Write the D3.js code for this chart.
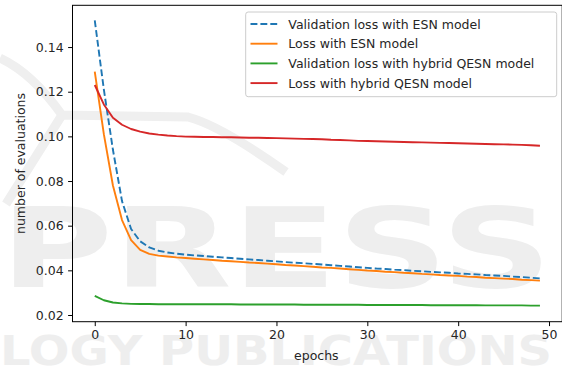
<!DOCTYPE html>
<html>
<head>
<meta charset="utf-8">
<script src="https://cdn.jsdelivr.net/npm/d3@7"></script>
<style>
body { margin: 0; background: #fff; }
svg { display: block; font-family: "DejaVu Sans", sans-serif; }
</style>
</head>
<body>
<div id="plot"></div>
<script>
const epochs = [0, 1, 2, 3, 4, 5, 6, 7, 8, 9, 10, 11, 12, 13, 14, 15, 16, 17, 18, 19,
    20, 21, 22, 23, 24, 25, 26, 27, 28, 29, 30, 31, 32, 33, 34, 35, 36, 37, 38, 39,
    40, 41, 42, 43, 44, 45, 46, 47, 48, 49];

const valLossEsn = [0.152, 0.121, 0.094, 0.071, 0.0585, 0.0530, 0.0503, 0.0488, 0.0480, 0.0475,
    0.0470, 0.0467, 0.0464, 0.0461, 0.0458, 0.0455, 0.0452, 0.0449, 0.0446, 0.0443,
    0.0440, 0.0437, 0.0434, 0.0432, 0.0429, 0.0426, 0.0423, 0.0420, 0.0417, 0.0414,
    0.0411, 0.0408, 0.0406, 0.0403, 0.0401, 0.0398, 0.0396, 0.0393, 0.0391, 0.0389,
    0.0386, 0.0384, 0.0382, 0.0379, 0.0377, 0.0375, 0.0372, 0.0370, 0.0367, 0.0364];

const lossEsn = [0.129, 0.101, 0.078, 0.0625, 0.0535, 0.0492, 0.0474, 0.0466, 0.0462, 0.0458,
    0.0455, 0.0452, 0.0449, 0.0446, 0.0443, 0.0441, 0.0438, 0.0435, 0.0433, 0.0430,
    0.0427, 0.0424, 0.0422, 0.0419, 0.0416, 0.0413, 0.0411, 0.0408, 0.0405, 0.0402,
    0.0399, 0.0397, 0.0394, 0.0392, 0.0389, 0.0387, 0.0384, 0.0382, 0.0379, 0.0377,
    0.0375, 0.0372, 0.0370, 0.0367, 0.0365, 0.0363, 0.0361, 0.0358, 0.0356, 0.0354];

const valLossQesn = [0.0286, 0.0266, 0.0256, 0.0252, 0.0250, 0.0249, 0.0249, 0.0248, 0.0248, 0.0248,
    0.0248, 0.0248, 0.0248, 0.0248, 0.0248, 0.0248, 0.0247, 0.0247, 0.0247, 0.0247,
    0.0247, 0.0247, 0.0247, 0.0246, 0.0246, 0.0246, 0.0246, 0.0246, 0.0246, 0.0246,
    0.0245, 0.0245, 0.0245, 0.0245, 0.0245, 0.0245, 0.0245, 0.0244, 0.0244, 0.0244,
    0.0244, 0.0244, 0.0244, 0.0243, 0.0243, 0.0243, 0.0243, 0.0243, 0.0242, 0.0242];

const lossQesn = [0.1230, 0.1143, 0.1083, 0.1052, 0.1033, 0.1021, 0.1013, 0.1008, 0.1004, 0.1001,
    0.0999, 0.0998, 0.0997, 0.0997, 0.0996, 0.0996, 0.0995, 0.0994, 0.0994, 0.0993,
    0.0992, 0.0991, 0.0990, 0.0989, 0.0988, 0.0987, 0.0985, 0.0984, 0.0982, 0.0980,
    0.0979, 0.0978, 0.0977, 0.0976, 0.0975, 0.0974, 0.0973, 0.0972, 0.0971, 0.0970,
    0.0969, 0.0968, 0.0967, 0.0966, 0.0965, 0.0964, 0.0963, 0.0962, 0.0960, 0.0958];

const xTicks = [0, 10, 20, 30, 40, 50];
const yTicks = [0.02, 0.04, 0.06, 0.08, 0.10, 0.12, 0.14];

const seriesNames = ['Validation loss with ESN model', 'Loss with ESN model',
    'Validation loss with hybrid QESN model', 'Loss with hybrid QESN model'];
const seriesValues = [valLossEsn, lossEsn, valLossQesn, lossQesn];
const colors = ['#1f77b4', '#ff7f0e', '#2ca02c', '#d62728'];
const dashes = ['6.9,3', null, null, null];

const W = 562, H = 367;
// axes box in page pixels
let box = { left: 72.5, right: 562.2, top: 5.3, bottom: 321.7 };

let svg = d3.select("#plot")
    .append("svg")
    .attr("width", W)
    .attr("height", H);

// faint publisher watermark behind the plot
svg.append("path")
    .attr("d", "M0,58 C30,72 50,98 62,115 L188,117 C215,124 255,150 286,172 M62,115 L6,204")
    .attr("fill", "none")
    .attr("stroke", "#efefef")
    .attr("stroke-width", 9);
let wm = svg.append("g").attr("fill", "#eeeeee");
wm.append("text")
    .attr("x", 0).attr("y", 287)
    .attr("font-size", 110).attr("font-weight", "bold")
    .attr("textLength", 552).attr("lengthAdjust", "spacingAndGlyphs")
    .text("PRESS");
wm.append("text")
    .attr("x", 0).attr("y", 365)
    .attr("font-size", 40).attr("font-weight", "bold")
    .attr("textLength", 552).attr("lengthAdjust", "spacingAndGlyphs")
    .text("LOGY PUBLICATIONS");

let x = d3.scaleLinear()
    .domain([-2.45, 51.45])
    .range([box.left, box.right]);
let y = d3.scaleLinear()
    .domain([0.017, 0.1587])
    .range([box.bottom, box.top]);

let xAxis = d3.axisBottom(x)
    .tickValues(xTicks)
    .tickFormat(d3.format("d"))
    .tickSize(4.4)
    .tickPadding(4.4);
let yAxis = d3.axisLeft(y)
    .tickValues(yTicks)
    .tickFormat(d3.format(".2f"))
    .tickSize(4.4)
    .tickPadding(4.4);

const styleAxis = (g) => {
    g.select(".domain").remove();
    g.selectAll("line").attr("stroke", "#000").attr("stroke-width", 1);
    g.selectAll("text")
        .attr("fill", "#262626")
        .attr("font-size", 12.5)
        .attr("font-family", "DejaVu Sans, sans-serif");
};

svg.append("g")
    .attr("transform", "translate(0," + box.bottom + ")")
    .call(xAxis)
    .call(styleAxis);
svg.append("g")
    .attr("transform", "translate(" + box.left + ",0)")
    .call(yAxis)
    .call(styleAxis);

// lines
let line = d3.line()
    .x((d, i) => x(epochs[i]))
    .y((d) => y(d));

seriesValues.forEach((vals, i) => {
    svg.append("path")
        .datum(vals)
        .attr("fill", "none")
        .attr("stroke", colors[i])
        .attr("stroke-width", 1.9)
        .attr("stroke-dasharray", dashes[i])
        .attr("stroke-linejoin", "round")
        .attr("d", line);
});

// frame
svg.append("rect")
    .attr("x", box.left)
    .attr("y", box.top)
    .attr("width", box.right - box.left)
    .attr("height", box.bottom - box.top)
    .attr("fill", "none")
    .attr("stroke", "#000")
    .attr("stroke-width", 1);

// axis labels
svg.append("text")
    .attr("x", (box.left + box.right) / 2 - 1)
    .attr("y", 360)
    .attr("text-anchor", "middle")
    .attr("font-size", 12.5)
    .attr("fill", "#262626")
    .text("epochs");
svg.append("text")
    .attr("transform", "translate(24.5," + (box.top + box.bottom) / 2 + ") rotate(-90)")
    .attr("text-anchor", "middle")
    .attr("font-size", 12.5)
    .attr("fill", "#262626")
    .text("number of evaluations");

// legend
let legend = svg.append("g");
legend.append("rect")
    .attr("x", 245.7).attr("y", 12)
    .attr("width", 311).attr("height", 84.7)
    .attr("rx", 2.5)
    .attr("fill", "#fff").attr("fill-opacity", 0.8)
    .attr("stroke", "#cccccc").attr("stroke-width", 1);

seriesNames.forEach((name, i) => {
    const ly = 24 + i * 19.7;
    legend.append("line")
        .attr("x1", 250.5).attr("x2", 277.5)
        .attr("y1", ly).attr("y2", ly)
        .attr("stroke", colors[i])
        .attr("stroke-width", 1.9)
        .attr("stroke-dasharray", dashes[i]);
    legend.append("text")
        .attr("x", 288.3).attr("y", ly + 4.5)
        .attr("font-size", 12.5)
        .attr("fill", "#262626")
        .text(name);
});
</script>
</body>
</html>
